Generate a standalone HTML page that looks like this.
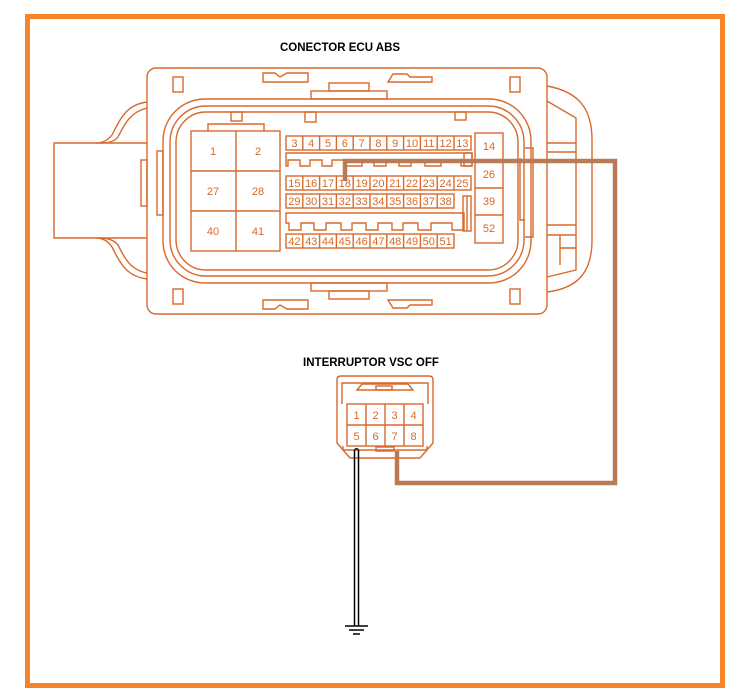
<!DOCTYPE html>
<html><head><meta charset="utf-8"><style>
html,body{margin:0;padding:0;background:#fff}
svg{display:block}
text{font-family:"Liberation Sans",sans-serif}
.o{fill:none;stroke:#d9692a;stroke-width:1.4}
.p text{fill:#d9692a;font-size:11px;text-anchor:middle}
</style></head><body>
<svg width="750" height="695" viewBox="0 0 750 695" xmlns="http://www.w3.org/2000/svg">
<rect x="27.5" y="16.5" width="695" height="669" fill="none" stroke="#f5842b" stroke-width="5"/>
<text x="340" y="51" font-size="11.5" font-weight="bold" text-anchor="middle" fill="#000">CONECTOR ECU ABS</text>
<text x="371" y="366" font-size="11.5" font-weight="bold" text-anchor="middle" fill="#000">INTERRUPTOR VSC OFF</text>

<g class="o">
<rect x="147" y="68" width="400" height="246" rx="9"/>
<path d="M147,143 H54 V238 H147"/>
<path d="M147,102 C125,105 120,120 112,135 C108,140 103,143 96,143"/>
<path d="M147,108 C130,112 124,125 118,137 C114,142 108,143 100,143"/>
<path d="M147,279 C125,276 120,262 112,247 C108,241 103,238 96,238"/>
<path d="M147,273 C130,270 124,257 118,245 C114,240 108,238 100,238"/>
<rect x="141" y="160" width="6" height="46"/>
<rect x="157" y="151" width="6" height="64"/>
<rect x="173" y="77" width="10" height="15"/>
<rect x="173" y="289" width="10" height="15"/>
<rect x="510" y="77" width="10" height="15"/>
<rect x="510" y="289" width="10" height="15"/>
<path d="M263,73 H275 L280,77 L287,73 H308 L308,82 H263 Z"/>
<path d="M388,82 L393,74 H407 L410,77 H432 V82 Z"/>
<rect x="329" y="83" width="40" height="8"/>
<rect x="311" y="91" width="76" height="8"/>
<path d="M263,309 H275 L280,305 L287,309 H308 L308,300 H263 Z"/>
<path d="M388,300 L393,308 H407 L410,305 H432 V300 Z"/>
<rect x="329" y="291" width="40" height="8"/>
<rect x="311" y="283" width="76" height="8"/>
<rect x="163" y="99" width="368" height="184" rx="42"/>
<rect x="170" y="106" width="354" height="170" rx="36"/>
<rect x="176" y="112" width="342" height="158" rx="30"/>
<rect x="231" y="112" width="11" height="9"/>
<rect x="305" y="112" width="11" height="10"/>
<rect x="455" y="112" width="11" height="8"/>
<path d="M525,148 H533 V237 H525"/>
<path d="M520,158 V220 H525"/>
<path d="M547,86 C580,92 592,110 592,140 V240 C592,270 580,288 547,292"/>
<path d="M547,101 L576,118 V270 L547,277"/>
<path d="M547,143 H576 M547,152 H576 M547,225 H576 M547,235 H576 M560,235 V265 M560,248 H576"/>
<path d="M208,131 V124 H264 V131"/>
<rect x="191" y="131" width="89" height="120"/>
<path d="M236,131 V251 M191,171 H280 M191,211 H280"/>
<path d="M286,153 H472 V166 H461 V160 H441 V166 H425 V160 H411 V166 H399 V160 H386 V166 H374 V160 H362 V166 H346 V160 H332 V166 H322 V160 H310 V166 H300 V160 H288 V166 H286 Z"/>
<rect x="464" y="153" width="8" height="13"/>
<path d="M286,213 H464 V230 H452 V223 H431 V230 H418 V223 H403 V230 H392 V223 H378 V230 H366 V223 H352 V230 H341 V223 H326 V230 H314 V223 H301 V230 H289 V223 H286 Z"/>
<rect x="463" y="196" width="8" height="35"/>
<path d="M467,196 V231"/>
<rect x="475" y="133" width="28" height="110"/>
<path d="M475,160 H503 M475,188 H503 M475,215 H503"/>
</g>

<g class="p">
<g class="o">
<rect x="286" y="136" width="185" height="14"/>
<path d="M302.8,136v14M319.6,136v14M336.4,136v14M353.2,136v14M370,136v14M386.8,136v14M403.6,136v14M420.4,136v14M437.2,136v14M454,136v14"/>
<rect x="286" y="176" width="185" height="14"/>
<path d="M302.8,176v14M319.6,176v14M336.4,176v14M353.2,176v14M370,176v14M386.8,176v14M403.6,176v14M420.4,176v14M437.2,176v14M454,176v14"/>
<rect x="286" y="194" width="168" height="14"/>
<path d="M302.8,194v14M319.6,194v14M336.4,194v14M353.2,194v14M370,194v14M386.8,194v14M403.6,194v14M420.4,194v14M437.2,194v14"/>
<rect x="286" y="234" width="168" height="14"/>
<path d="M302.8,234v14M319.6,234v14M336.4,234v14M353.2,234v14M370,234v14M386.8,234v14M403.6,234v14M420.4,234v14M437.2,234v14"/>
</g>
<text x="294.4" y="147">3</text><text x="311.2" y="147">4</text><text x="328" y="147">5</text><text x="344.8" y="147">6</text><text x="361.6" y="147">7</text><text x="378.4" y="147">8</text><text x="395.2" y="147">9</text><text x="412" y="147">10</text><text x="428.8" y="147">11</text><text x="445.6" y="147">12</text><text x="462.4" y="147">13</text>
<text x="294.4" y="187">15</text><text x="311.2" y="187">16</text><text x="328" y="187">17</text><text x="344.8" y="187">18</text><text x="361.6" y="187">19</text><text x="378.4" y="187">20</text><text x="395.2" y="187">21</text><text x="412" y="187">22</text><text x="428.8" y="187">23</text><text x="445.6" y="187">24</text><text x="462.4" y="187">25</text>
<text x="294.4" y="205">29</text><text x="311.2" y="205">30</text><text x="328" y="205">31</text><text x="344.8" y="205">32</text><text x="361.6" y="205">33</text><text x="378.4" y="205">34</text><text x="395.2" y="205">35</text><text x="412" y="205">36</text><text x="428.8" y="205">37</text><text x="445.6" y="205">38</text>
<text x="294.4" y="245">42</text><text x="311.2" y="245">43</text><text x="328" y="245">44</text><text x="344.8" y="245">45</text><text x="361.6" y="245">46</text><text x="378.4" y="245">47</text><text x="395.2" y="245">48</text><text x="412" y="245">49</text><text x="428.8" y="245">50</text><text x="445.6" y="245">51</text>
<text x="489" y="150">14</text><text x="489" y="178">26</text><text x="489" y="205">39</text><text x="489" y="232">52</text>
<text x="213" y="155">1</text><text x="258" y="155">2</text><text x="213" y="195">27</text><text x="258" y="195">28</text><text x="213" y="235">40</text><text x="258" y="235">41</text>
</g>

<g class="o">
<path d="M341,376 H429 Q433,376 433,380 V443 L420,458 H350 L337,443 V380 Q337,376 341,376 Z"/>
<path d="M342,404 V383 H428 V404"/>
<path d="M357,390 L362,384 H408 L413,390 Z"/>
<rect x="376" y="386" width="16" height="4"/>
<rect x="347" y="404" width="76" height="42"/>
<path d="M366,404v42M385,404v42M404,404v42M347,425h76"/>
<path d="M343,446 V450 H427 V446"/>
<rect x="376" y="447" width="18" height="4"/>
</g>
<g class="p">
<text x="356.5" y="419">1</text><text x="375.5" y="419">2</text><text x="394.5" y="419">3</text><text x="413.5" y="419">4</text>
<text x="356.5" y="440">5</text><text x="375.5" y="440">6</text><text x="394.5" y="440">7</text><text x="413.5" y="440">8</text>
</g>

<path d="M345,181 V161 H615 V483 H397 V451" fill="none" stroke="#b97a57" stroke-width="4.5" stroke-linejoin="miter"/>
<path d="M354.5,450 V626 M358.5,450 V626" stroke="#000" stroke-width="1.5" fill="none"/>
<path d="M354.5,450 Q356.5,447 358.5,450" stroke="#000" stroke-width="1.3" fill="none"/>
<path d="M345,626 H368 M349,630 H364 M353,634 H360" stroke="#000" stroke-width="1.5"/>
</svg>
</body></html>
